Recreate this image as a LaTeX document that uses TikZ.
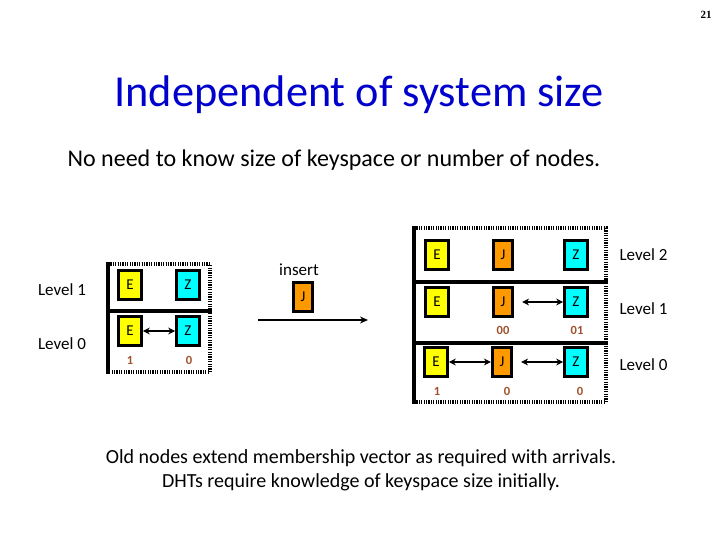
\documentclass[tikz,border=0pt]{standalone}
\usepackage{fontspec}
\setmainfont{Carlito}
\newfontfamily\pgfont{Liberation Serif}
\usetikzlibrary{arrows.meta}
\definecolor{ttl}{HTML}{0000CC}
\definecolor{ky}{HTML}{FFFF00}
\definecolor{kz}{HTML}{00FFFF}
\definecolor{kj}{HTML}{FF9900}
\definecolor{lbl}{HTML}{A0522D}
\tikzset{
  key/.style={draw=black, line width=3.2pt, minimum width=22.5pt, minimum height=28.5pt, inner sep=0pt, font=\fontsize{15}{17}\selectfont},
  kE/.style={key, fill=ky},
  kZ/.style={key, fill=kz},
  kJ/.style={key, fill=kj, minimum width=19pt},
  vec/.style={text=lbl, font=\fontsize{12.5}{14}\selectfont\bfseries},
  lev/.style={font=\fontsize{17}{20}\selectfont},
  solidedge/.style={line width=3.2pt},
  dotedge/.style={line width=3.2pt, dash pattern=on 1.2pt off 1.2pt},
  dbl/.style={line width=2pt, {Stealth[length=7pt,width=7pt]}-{Stealth[length=7pt,width=7pt]}},
}
\begin{document}
\begin{tikzpicture}[x=1pt,y=-1pt]
\useasboundingbox (0,0) rectangle (720,540);
\node (pg) at (706,15) {\pgfont\fontsize{11}{13}\selectfont\bfseries 21};
\node[text=ttl, font=\fontsize{44.3}{50}\selectfont] (title) at (359,95) {Independent of system size};
\node[font=\fontsize{24}{28}\selectfont] (sub) at (334,160) {No need to know size of keyspace or number of nodes.};
\node[font=\fontsize{20}{24}\selectfont, align=center] (foot) at (361,470) {Old nodes extend membership vector as required with arrivals.\\DHTs require knowledge of keyspace size initially.};

% left box
\draw[dotedge] (108,264) -- (210,264) -- (210,372) -- (108,372);
\draw[solidedge] (108,262.4) -- (108,373.6);
\draw[solidedge] (108,311) -- (211.6,311);
\node[lev] (l1) at (62,290) {Level 1};
\node[lev] (l0) at (62,344) {Level 0};
\node[kE] (e1) at (130,285) {E};
\node[kZ] (z1) at (188,285) {Z};
\node[kE] (e0) at (130,331) {E};
\node[kZ] (z0) at (188,331) {Z};
\node[vec] (v1) at (130,360) {1};
\node[vec] (v0) at (189,360) {0};
\draw[dbl] (e0) -- (z0);

% insert
\node[font=\fontsize{17}{20}\selectfont] (ins) at (299,270) {insert};
\node[kJ] (ji) at (303,297) {J};
\coordinate (a1) at (258,320);
\coordinate (a2) at (368,320);
\draw[line width=2pt, -{Stealth[length=8pt,width=7pt]}] (a1) -- (a2);

% right box
\draw[dotedge] (414,228) -- (606,228) -- (606,402) -- (414,402);
\draw[solidedge] (414,226.4) -- (414,403.6);
\draw[solidedge] (414,282) -- (607.6,282);
\draw[solidedge] (414,343) -- (607.6,343);
\node[kE] (re2) at (437,255) {E};
\node[kJ] (rj2) at (503,255) {J};
\node[kZ] (rz2) at (576,255) {Z};
\node[kE] (re1) at (437,302) {E};
\node[kJ] (rj1) at (503,302) {J};
\node[kZ] (rz1) at (576,302) {Z};
\node[kE] (re0) at (436,362) {E};
\node[kJ] (rj0) at (502,362) {J};
\node[kZ] (rz0) at (576,362) {Z};
\node[vec] (w00) at (503,330) {00};
\node[vec] (w01) at (577,330) {01};
\node[vec] (u1) at (437,391) {1};
\node[vec] (u2) at (507,391) {0};
\node[vec] (u3) at (580,391) {0};
\node[lev, anchor=west] (r2) at (616,255) {Level 2};
\node[lev, anchor=west] (r1) at (616,309) {Level 1};
\node[lev, anchor=west] (r0) at (616,365) {Level 0};
\draw[dbl, shorten <=8pt] (rj1) -- (rz1);
\draw[dbl] (re0) -- (rj0);
\draw[dbl, shorten <=8pt] (rj0) -- (rz0);
\end{tikzpicture}
\end{document}
